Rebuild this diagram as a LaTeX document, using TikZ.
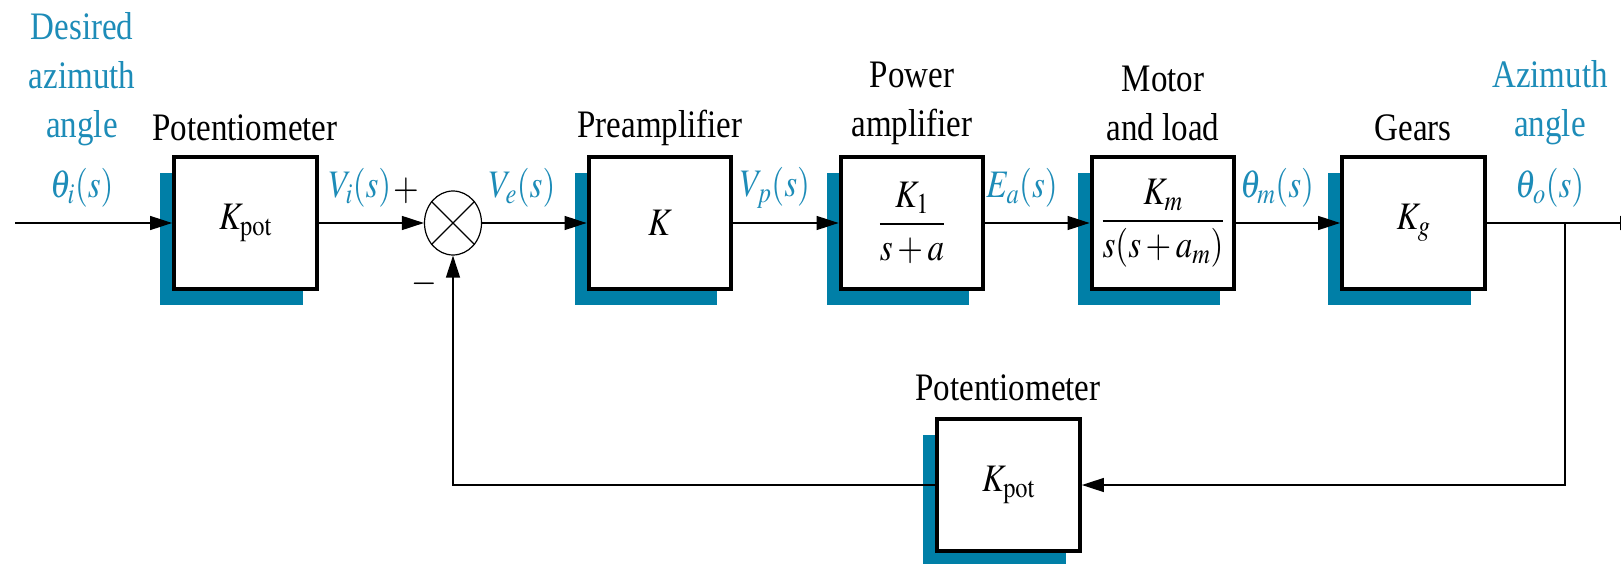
\documentclass[tikz,border=0pt]{standalone}
\usepackage{mathptmx}
\usepackage{fontspec}
\setmainfont{Liberation Serif}
\usepackage{graphicx}
\usetikzlibrary{arrows.meta,shapes.geometric,shadows}
\definecolor{azShadow}{HTML}{007FA7}
\definecolor{azLabel}{HTML}{1D8CB8}
\newcommand{\azTall}[1]{\scalebox{1}[1.18]{#1}}

\begin{document}
\begin{tikzpicture}[x=1pt,y=-1pt,>={Triangle[length=22pt,width=14pt]},line join=miter,font=\fontsize{33}{49}\selectfont]
\useasboundingbox[fill=white] (0,0) rectangle (1621,564);
\tikzset{block/.style={draw=black,fill=white,line width=4.3pt,minimum width=142.5pt,minimum height=132.5pt,inner sep=0pt,drop shadow={shadow xshift=-14pt,shadow yshift=-16pt,fill=azShadow,opacity=1}},sig/.style={draw=black,line width=1.3pt},tag/.style={text=azLabel,inner sep=0pt},blockcap/.style={text=black,align=center,inner sep=0pt}}
% forward path blocks
\node[block] (potIn) at (245.5,223) {\azTall{$K_{\mathrm{pot}}$}};
\node[draw=black,line width=1.2pt,ellipse,minimum width=57pt,minimum height=64pt,inner sep=0pt] (sumJ) at (453,223) {};
\draw[line width=1.2pt] (sumJ.45) -- (sumJ.225) (sumJ.135) -- (sumJ.315);
\node[block] (preAmp) at (660,223) {\azTall{$K$}};
\node[block] (powAmp) at (912,223) {\azTall{$\displaystyle\frac{K_1}{s+a}$}};
\node[block] (motor) at (1163,223) {\azTall{$\displaystyle\frac{K_m}{s(s+a_m)}$}};
\node[block] (gears) at (1413.5,223) {\azTall{$K_g$}};
% feedback block
\node[block] (potFb) at (1008.5,485) {\azTall{$K_{\mathrm{pot}}$}};
% captions and signals
\node[tag,align=center] (desTag) at (82,79) {\azTall{Desired}\\\azTall{azimuth}\\\azTall{angle}};
\node[tag] (thiTag) at (82,188) {\azTall{$\theta_i(s)$}};
\node[blockcap] (potCap) at (245,128) {\azTall{Potentiometer}};
\node[tag] (viTag) at (360,188) {\azTall{$V_i(s)$}};
\node[blockcap] (plusCap) at (406,191) {\azTall{$+$}};
\node[blockcap] (minusCap) at (424,284) {\azTall{$-$}};
\node[tag] (veTag) at (522,188) {\azTall{$V_e(s)$}};
\node[blockcap] (preCap) at (660,128) {\azTall{Preamplifier}};
\node[tag] (vpTag) at (775,188) {\azTall{$V_p(s)$}};
\node[blockcap] (powCap) at (912,103) {\azTall{Power}\\\azTall{amplifier}};
\node[tag] (eaTag) at (1022,188) {\azTall{$E_a(s)$}};
\node[blockcap] (motCap) at (1163,103) {\azTall{Motor}\\\azTall{and load}};
\node[tag] (thmTag) at (1277,188) {\azTall{$\theta_m(s)$}};
\node[blockcap] (gearCap) at (1413,128) {\azTall{Gears}};
\node[tag,align=center] (azTag) at (1550,103) {\azTall{Azimuth}\\\azTall{angle}};
\node[tag] (thoTag) at (1550,188) {\azTall{$\theta_o(s)$}};
\node[blockcap] (fbCap) at (1008,388) {\azTall{Potentiometer}};
% connectors
\coordinate (inStart) at (15,223);
\coordinate (outEnd) at (1642,223);
\coordinate (brPt) at (1565,223);
\draw[sig,->] (inStart) -- (potIn.west);
\draw[sig,->] (potIn.east) -- (sumJ.west);
\draw[sig,->] (sumJ.east) -- (preAmp.west);
\draw[sig,->] (preAmp.east) -- (powAmp.west);
\draw[sig,->] (powAmp.east) -- (motor.west);
\draw[sig,->] (motor.east) -- (gears.west);
\draw[sig,->] (gears.east) -- (outEnd);
\draw[sig,->] (brPt) |- (potFb.east);
\draw[sig,->] (potFb.west) -| (sumJ.south);
\end{tikzpicture}
\end{document}
